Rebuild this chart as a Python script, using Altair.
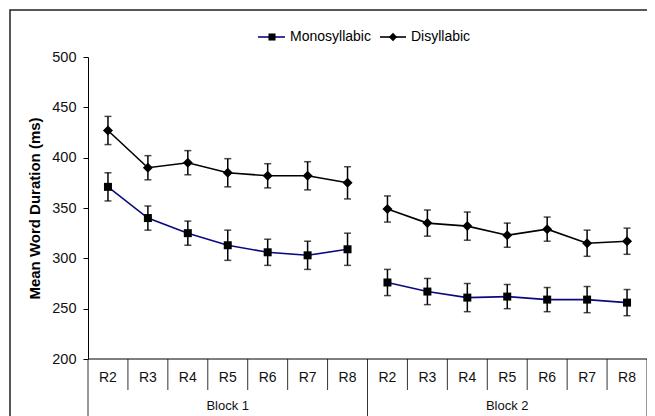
import altair as alt
import pandas as pd

rounds = ["R2", "R3", "R4", "R5", "R6", "R7", "R8"]
blocks = ["Block 1", "Block 2"]
series = ["Monosyllabic", "Disyllabic"]

mono_mean = [371, 340, 325, 313, 306, 303, 309, 276, 267, 261, 262, 259, 259, 256]
mono_err = [14, 12, 12, 15, 13, 14, 16, 13, 13, 14, 12, 12, 13, 13]
di_mean = [427, 390, 395, 385, 382, 382, 375, 349, 335, 332, 323, 329, 315, 317]
di_err = [14, 12, 12, 14, 12, 14, 16, 13, 13, 14, 12, 12, 13, 13]

W, H = 559, 302
FONT = "Liberation Sans"
Y0, Y1 = 200, 500

rows = []
for name, means, errs in [(series[0], mono_mean, mono_err), (series[1], di_mean, di_err)]:
    for i, (m, e) in enumerate(zip(means, errs)):
        rows.append({"series": name, "block": blocks[i // len(rounds)],
                     "round": rounds[i % len(rounds)], "idx": i + 0.5,
                     "mean": m, "lo": m - e, "hi": m + e})
df = pd.DataFrame(rows)

ncat = len(rounds) * len(blocks)
xs = alt.Scale(domain=[0, ncat], nice=False)
ys = alt.Scale(domain=[Y0, Y1], nice=False, zero=False)


def px_x(p):
    return p * ncat / W


def px_y(p):
    return Y1 - p * (Y1 - Y0) / H


y_axis = alt.Axis(values=[200, 250, 300, 350, 400, 450, 500], tickSize=5, tickColor="black",
                  domainColor="black", labelFontSize=14.5, labelColor="#111", labelFont=FONT,
                  labelPadding=7, grid=False, title="Mean Word Duration (ms)",
                  titleFont=FONT, titleFontSize=15, titleFontWeight="bold", titleColor="black",
                  titleX=-54, titleY=H / 2, titleAngle=-90, titleAlign="center", titleBaseline="middle")


def X(f):
    return alt.X(f, scale=xs, axis=None)


def Y(f):
    return alt.Y(f, scale=ys, axis=y_axis)


colors = alt.Scale(domain=series, range=["#0a0a80", "#000000"])

lines = alt.Chart(df).mark_line(strokeWidth=1.6).encode(
    x=X("idx:Q"), y=Y("mean:Q"),
    color=alt.Color("series:N", scale=colors, legend=None),
    detail="block:N")

bars = alt.Chart(df).mark_rule(color="black", strokeWidth=1.5).encode(
    x=X("idx:Q"), y=Y("lo:Q"), y2="hi:Q")
cap_lo = alt.Chart(df).mark_tick(color="black", orient="horizontal", size=7, thickness=1.5).encode(
    x=X("idx:Q"), y=Y("lo:Q"))
cap_hi = alt.Chart(df).mark_tick(color="black", orient="horizontal", size=7, thickness=1.5).encode(
    x=X("idx:Q"), y=Y("hi:Q"))

sq = alt.Chart(df[df.series == series[0]]).mark_point(shape="square", filled=True, size=64, color="black", opacity=1).encode(
    x=X("idx:Q"), y=Y("mean:Q"))
di = alt.Chart(df[df.series == series[1]]).mark_point(shape="diamond", filled=True, size=100, color="black", opacity=1).encode(
    x=X("idx:Q"), y=Y("mean:Q"))

# category axis (drawn below the value axis through the same scales)
sep = pd.DataFrame({"pos": list(range(ncat + 1))})
sep["top"] = Y0
sep["bottom"] = [px_y(H + 120) if p % len(rounds) == 0 else px_y(H + 31) for p in sep["pos"]]
seps = alt.Chart(sep).mark_rule(color="#333", strokeWidth=1).encode(
    x=X("pos:Q"), y=Y("top:Q"), y2="bottom:Q")
base = pd.DataFrame({"x0": [0], "x1": [ncat], "yv": [Y0]})
baseline = alt.Chart(base).mark_rule(color="black", strokeWidth=1).encode(
    x=X("x0:Q"), x2="x1:Q", y=Y("yv:Q"))

cat = df[df.series == series[0]][["idx", "round"]].copy()
cat["yv"] = px_y(H + 19)
cat_text = alt.Chart(cat).mark_text(fontSize=14, font=FONT, color="#111").encode(
    x=X("idx:Q"), y=Y("yv:Q"), text="round:N")
blk = pd.DataFrame({"block": blocks, "mid": [len(rounds) / 2, len(rounds) * 1.5]})
blk["yv"] = px_y(H + 47)
blk_text = alt.Chart(blk).mark_text(fontSize=13, font=FONT, color="#111").encode(
    x=X("mid:Q"), y=Y("yv:Q"), text="block:N")

# legend (placed above the plot through the same scales)
ly = px_y(-20)
leg = pd.DataFrame({
    "s": series,
    "lx0": [px_x(170), px_x(292)],
    "lx1": [px_x(197), px_x(318)],
    "mx": [px_x(184), px_x(305)],
    "tx": [px_x(202), px_x(323)],
    "ly": [ly, ly],
})
leg_line = alt.Chart(leg).mark_rule(strokeWidth=1.6).encode(
    x=X("lx0:Q"), x2="lx1:Q", y=Y("ly:Q"),
    color=alt.Color("s:N", scale=colors, legend=None))
leg_sq = alt.Chart(leg[leg.s == series[0]]).mark_point(shape="square", filled=True, size=50, color="black", opacity=1).encode(
    x=X("mx:Q"), y=Y("ly:Q"))
leg_di = alt.Chart(leg[leg.s == series[1]]).mark_point(shape="diamond", filled=True, size=70, color="black", opacity=1).encode(
    x=X("mx:Q"), y=Y("ly:Q"))
leg_tx = alt.Chart(leg).mark_text(align="left", baseline="middle", fontSize=14, font=FONT, color="black").encode(
    x=X("tx:Q"), y=Y("ly:Q"), text="s:N")

fr = pd.DataFrame({"x0": [px_x(-78)], "x1": [px_x(W + 60)], "y0": [px_y(-47)], "y1": [px_y(H + 120)]})
frame = alt.Chart(fr).mark_rect(fillOpacity=0, stroke="#222", strokeWidth=1.5).encode(
    x=X("x0:Q"), x2="x1:Q", y=Y("y0:Q"), y2="y1:Q")

chart = alt.layer(
    lines, frame, seps, baseline, bars, cap_lo, cap_hi, sq, di, cat_text, blk_text,
    leg_line, leg_sq, leg_di, leg_tx
).properties(
    width=W, height=H, background="white",
    autosize=alt.AutoSizeParams(type="none"),
    padding={"left": 80, "top": 49, "right": 0, "bottom": 57},
).configure_view(stroke=None)

chart.save("out.html", embed_options={"renderer": "svg", "actions": False})
